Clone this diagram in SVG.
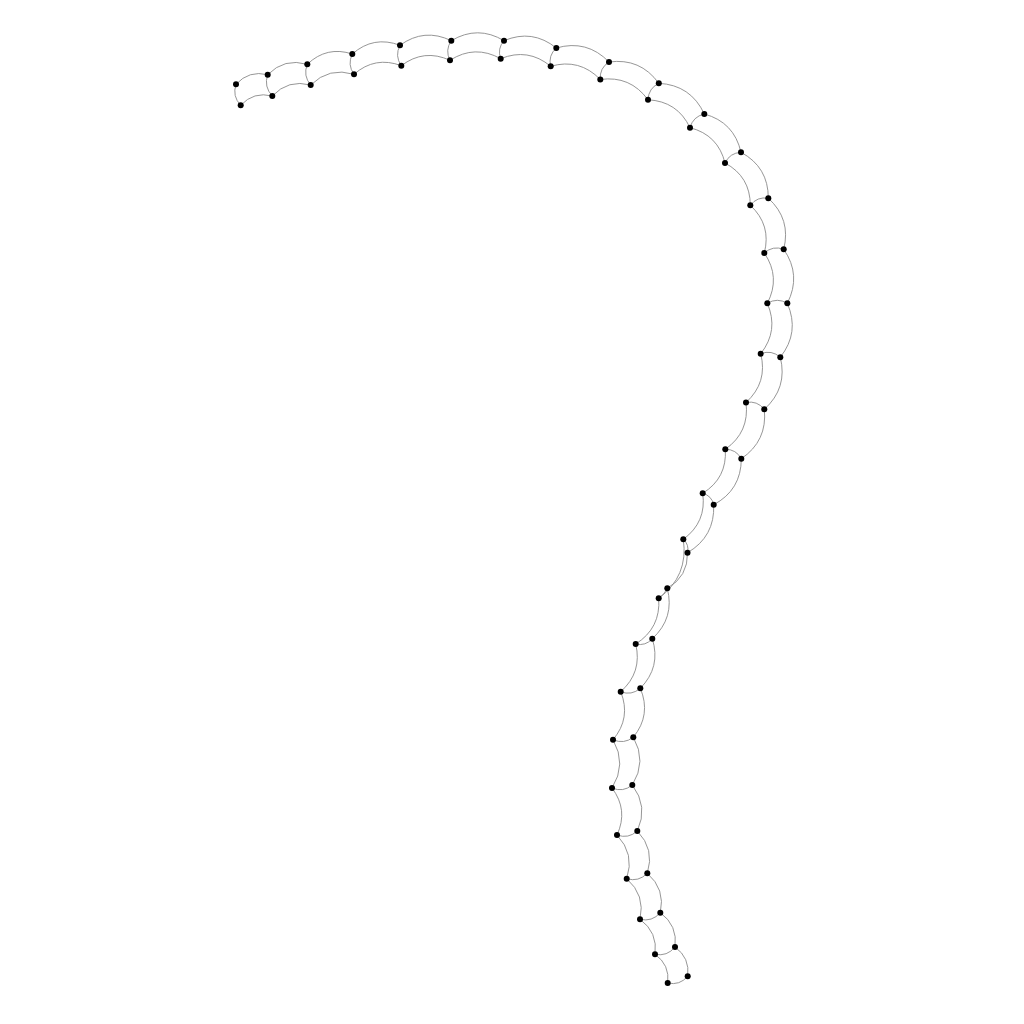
<svg xmlns="http://www.w3.org/2000/svg" width="1024" height="1024" viewBox="0 0 1024 1024">
<style>
.e{fill:none;stroke:#8a8a8a;stroke-width:0.9}
.n{fill:#000}
</style>
<rect width="1024" height="1024" fill="#fff"/>
<g id="edges">
<path class="e" d="M236,84.3Q249,70 267.7,74.7"/>
<path class="e" d="M267.7,74.7Q284.4,57.6 307.3,64.3"/>
<path class="e" d="M307.3,64.3Q326.7,45.65 352.3,54"/>
<path class="e" d="M352.3,54Q373.5,35.3 400,45.3"/>
<path class="e" d="M400,45.3Q424.3,27.6 451.3,40.7"/>
<path class="e" d="M451.3,40.7Q477.7,24.9 504,40.7"/>
<path class="e" d="M504,40.7Q532.3,28.7 556.3,48"/>
<path class="e" d="M556.3,48Q586.9,39.2 609,62"/>
<path class="e" d="M609,62Q640.3,57.7 658.8,83.3"/>
<path class="e" d="M658.8,83.3Q690.8,85 704.3,114"/>
<path class="e" d="M704.3,114Q734.1,122.1 741,152.3"/>
<path class="e" d="M741,152.3Q768.4,167.1 768.3,198.2"/>
<path class="e" d="M768.3,198.2Q791.3,219.1 783.7,249.3"/>
<path class="e" d="M783.7,249.3Q801.7,275.2 787.3,303.3"/>
<path class="e" d="M787.3,303.3Q800,332.4 780.3,357.2"/>
<path class="e" d="M780.3,357.2Q787.9,388.1 764.3,409.3"/>
<path class="e" d="M764.3,409.3Q767.6,440.9 741.3,458.7"/>
<path class="e" d="M741.3,458.7Q741.3,490 713.7,504.7"/>
<path class="e" d="M713.7,504.7Q715,536.6 687.5,552.7"/>
<path class="e" d="M687.5,552.7Q688.1,576.6 667.3,588.3"/>
<path class="e" d="M667.3,588.3Q674.9,618 652.3,638.7"/>
<path class="e" d="M652.3,638.7Q661.2,667.1 640.3,688.3"/>
<path class="e" d="M640.3,688.3Q651.5,714.9 633.3,737.2"/>
<path class="e" d="M633.3,737.2Q647.1,761.4 632.3,785"/>
<path class="e" d="M632.3,785Q648.6,806.5 637.3,831"/>
<path class="e" d="M637.3,831Q655,849.2 647.3,873.3"/>
<path class="e" d="M647.3,873.3Q665.6,889.1 660.3,912.7"/>
<path class="e" d="M660.3,912.7Q677.9,925.4 675,947"/>
<path class="e" d="M675,947Q690.1,957.8 687.7,976.3"/>
<path class="e" d="M240.7,105.3Q253.7,91.2 272.3,96"/>
<path class="e" d="M272.3,96Q288.2,79 310.7,85"/>
<path class="e" d="M310.7,85Q329.1,66.7 354,74.3"/>
<path class="e" d="M354,74.3Q375.1,55.8 401.3,65.7"/>
<path class="e" d="M401.3,65.7Q424,48.4 450,60.3"/>
<path class="e" d="M450,60.3Q474.9,44.3 500.7,58.7"/>
<path class="e" d="M500.7,58.7Q528,47.5 550.7,66.3"/>
<path class="e" d="M550.7,66.3Q579.5,58 600.3,79.5"/>
<path class="e" d="M600.3,79.5Q630.2,75.3 648,99.8"/>
<path class="e" d="M648,99.8Q677.4,101.2 690,127.7"/>
<path class="e" d="M690,127.7Q718.1,134.9 725,163"/>
<path class="e" d="M725,163Q750.3,176.6 750.3,205.3"/>
<path class="e" d="M750.3,205.3Q771.6,225 764.3,253"/>
<path class="e" d="M764.3,253Q780.9,277.3 767.3,303.3"/>
<path class="e" d="M767.3,303.3Q779.1,330.5 760.7,353.7"/>
<path class="e" d="M760.7,353.7Q768,382.5 746,402.5"/>
<path class="e" d="M746,402.5Q749.7,432.1 725.3,449.3"/>
<path class="e" d="M725.3,449.3Q727.2,478.1 702.7,493.3"/>
<path class="e" d="M702.7,493.3Q706.8,522.1 683.3,539.3"/>
<path class="e" d="M683.3,539.3Q688.7,576.2 658.7,598.3"/>
<path class="e" d="M658.7,598.3Q660.9,628.1 635.7,644"/>
<path class="e" d="M635.7,644Q642.5,672.4 620.7,691.7"/>
<path class="e" d="M620.7,691.7Q631.3,718 613,739.7"/>
<path class="e" d="M613,739.7Q627,764.2 612,788"/>
<path class="e" d="M612,788Q628.6,810 617,835"/>
<path class="e" d="M617,835Q635,853.9 626.7,878.7"/>
<path class="e" d="M626.7,878.7Q645.5,895 640,919.3"/>
<path class="e" d="M640,919.3Q658,932.3 655,954.3"/>
<path class="e" d="M655,954.3Q670,964.8 667.7,983"/>
<path class="e" d="M240.7,105.3Q232.05,96.2 236,84.3"/>
<path class="e" d="M272.3,96Q263.6,86.7 267.7,74.7"/>
<path class="e" d="M310.7,85Q302.8,75.7 307.3,64.3"/>
<path class="e" d="M354,74.3Q347.1,64.7 352.3,54"/>
<path class="e" d="M401.3,65.7Q394.5,55.9 400,45.3"/>
<path class="e" d="M450,60.3Q444.8,50.1 451.3,40.7"/>
<path class="e" d="M500.7,58.7Q497,48.7 504,40.7"/>
<path class="e" d="M550.7,66.3Q548,55.5 556.3,48"/>
<path class="e" d="M600.3,79.5Q599.4,68.1 609,62"/>
<path class="e" d="M648,99.8Q648.5,88.3 658.8,83.3"/>
<path class="e" d="M690,127.7Q693,116.6 704.3,114"/>
<path class="e" d="M725,163Q729.8,152.9 741,152.3"/>
<path class="e" d="M750.3,205.3Q757.2,196.4 768.3,198.2"/>
<path class="e" d="M764.3,253Q772.9,245.3 783.7,249.3"/>
<path class="e" d="M767.3,303.3Q777.3,297.3 787.3,303.3"/>
<path class="e" d="M760.7,353.7Q771.6,349.6 780.3,357.2"/>
<path class="e" d="M746,402.5Q757.2,400.4 764.3,409.3"/>
<path class="e" d="M725.3,449.3Q736.1,449.2 741.3,458.7"/>
<path class="e" d="M702.7,493.3Q711.6,495.7 713.7,504.7"/>
<path class="e" d="M683.3,539.3Q689.4,544.7 687.5,552.7"/>
<path class="e" d="M667.3,588.3Q664.5,594.6 658.7,598.3"/>
<path class="e" d="M652.3,638.7Q645.6,646.3 635.7,644"/>
<path class="e" d="M640.3,688.3Q631.5,695.9 620.7,691.7"/>
<path class="e" d="M633.3,737.2Q623.9,744.5 613,739.7"/>
<path class="e" d="M632.3,785Q623.1,792.6 612,788"/>
<path class="e" d="M637.3,831Q628.35,839.1 617,835"/>
<path class="e" d="M647.3,873.3Q638.6,882.2 626.7,878.7"/>
<path class="e" d="M660.3,912.7Q652.1,922.1 640,919.3"/>
<path class="e" d="M675,947Q667.2,956.7 655,954.3"/>
<path class="e" d="M687.7,976.3Q679.7,985.7 667.7,983"/>
</g>
<g id="a0"><circle class="n" cx="236" cy="84.3" r="3"/></g>
<g id="a1"><circle class="n" cx="267.7" cy="74.7" r="3"/></g>
<g id="a2"><circle class="n" cx="307.3" cy="64.3" r="3"/></g>
<g id="a3"><circle class="n" cx="352.3" cy="54" r="3"/></g>
<g id="a4"><circle class="n" cx="400" cy="45.3" r="3"/></g>
<g id="a5"><circle class="n" cx="451.3" cy="40.7" r="3"/></g>
<g id="a6"><circle class="n" cx="504" cy="40.7" r="3"/></g>
<g id="a7"><circle class="n" cx="556.3" cy="48" r="3"/></g>
<g id="a8"><circle class="n" cx="609" cy="62" r="3"/></g>
<g id="a9"><circle class="n" cx="658.8" cy="83.3" r="3"/></g>
<g id="a10"><circle class="n" cx="704.3" cy="114" r="3"/></g>
<g id="a11"><circle class="n" cx="741" cy="152.3" r="3"/></g>
<g id="a12"><circle class="n" cx="768.3" cy="198.2" r="3"/></g>
<g id="a13"><circle class="n" cx="783.7" cy="249.3" r="3"/></g>
<g id="a14"><circle class="n" cx="787.3" cy="303.3" r="3"/></g>
<g id="a15"><circle class="n" cx="780.3" cy="357.2" r="3"/></g>
<g id="a16"><circle class="n" cx="764.3" cy="409.3" r="3"/></g>
<g id="a17"><circle class="n" cx="741.3" cy="458.7" r="3"/></g>
<g id="a18"><circle class="n" cx="713.7" cy="504.7" r="3"/></g>
<g id="a19"><circle class="n" cx="687.5" cy="552.7" r="3"/></g>
<g id="a20"><circle class="n" cx="667.3" cy="588.3" r="3"/></g>
<g id="a21"><circle class="n" cx="652.3" cy="638.7" r="3"/></g>
<g id="a22"><circle class="n" cx="640.3" cy="688.3" r="3"/></g>
<g id="a23"><circle class="n" cx="633.3" cy="737.2" r="3"/></g>
<g id="a24"><circle class="n" cx="632.3" cy="785" r="3"/></g>
<g id="a25"><circle class="n" cx="637.3" cy="831" r="3"/></g>
<g id="a26"><circle class="n" cx="647.3" cy="873.3" r="3"/></g>
<g id="a27"><circle class="n" cx="660.3" cy="912.7" r="3"/></g>
<g id="a28"><circle class="n" cx="675" cy="947" r="3"/></g>
<g id="a29"><circle class="n" cx="687.7" cy="976.3" r="3"/></g>
<g id="b0"><circle class="n" cx="240.7" cy="105.3" r="3"/></g>
<g id="b1"><circle class="n" cx="272.3" cy="96" r="3"/></g>
<g id="b2"><circle class="n" cx="310.7" cy="85" r="3"/></g>
<g id="b3"><circle class="n" cx="354" cy="74.3" r="3"/></g>
<g id="b4"><circle class="n" cx="401.3" cy="65.7" r="3"/></g>
<g id="b5"><circle class="n" cx="450" cy="60.3" r="3"/></g>
<g id="b6"><circle class="n" cx="500.7" cy="58.7" r="3"/></g>
<g id="b7"><circle class="n" cx="550.7" cy="66.3" r="3"/></g>
<g id="b8"><circle class="n" cx="600.3" cy="79.5" r="3"/></g>
<g id="b9"><circle class="n" cx="648" cy="99.8" r="3"/></g>
<g id="b10"><circle class="n" cx="690" cy="127.7" r="3"/></g>
<g id="b11"><circle class="n" cx="725" cy="163" r="3"/></g>
<g id="b12"><circle class="n" cx="750.3" cy="205.3" r="3"/></g>
<g id="b13"><circle class="n" cx="764.3" cy="253" r="3"/></g>
<g id="b14"><circle class="n" cx="767.3" cy="303.3" r="3"/></g>
<g id="b15"><circle class="n" cx="760.7" cy="353.7" r="3"/></g>
<g id="b16"><circle class="n" cx="746" cy="402.5" r="3"/></g>
<g id="b17"><circle class="n" cx="725.3" cy="449.3" r="3"/></g>
<g id="b18"><circle class="n" cx="702.7" cy="493.3" r="3"/></g>
<g id="b19"><circle class="n" cx="683.3" cy="539.3" r="3"/></g>
<g id="b20"><circle class="n" cx="658.7" cy="598.3" r="3"/></g>
<g id="b21"><circle class="n" cx="635.7" cy="644" r="3"/></g>
<g id="b22"><circle class="n" cx="620.7" cy="691.7" r="3"/></g>
<g id="b23"><circle class="n" cx="613" cy="739.7" r="3"/></g>
<g id="b24"><circle class="n" cx="612" cy="788" r="3"/></g>
<g id="b25"><circle class="n" cx="617" cy="835" r="3"/></g>
<g id="b26"><circle class="n" cx="626.7" cy="878.7" r="3"/></g>
<g id="b27"><circle class="n" cx="640" cy="919.3" r="3"/></g>
<g id="b28"><circle class="n" cx="655" cy="954.3" r="3"/></g>
<g id="b29"><circle class="n" cx="667.7" cy="983" r="3"/></g>
</svg>
